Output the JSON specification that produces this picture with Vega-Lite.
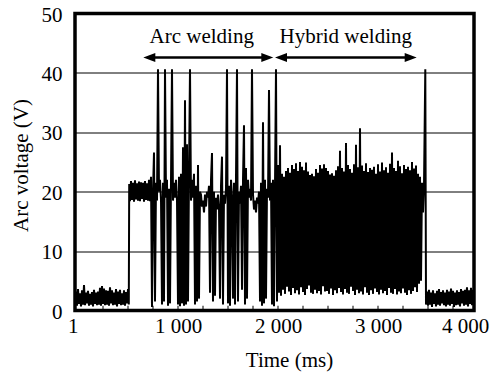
{
  "$schema": "https://vega.github.io/schema/vega-lite/v6.json",
  "width": 399,
  "height": 297,
  "autosize": {"type": "none"},
  "padding": {"left": 75, "top": 13.5, "right": 18, "bottom": 66.5},
  "config": {
    "view": {"stroke": "black", "strokeWidth": 3.5},
    "font": "Liberation Serif",
    "axis": {"labelFont": "Liberation Serif", "titleFont": "Liberation Serif", "labelColor": "black", "titleColor": "black", "labelFontSize": 21, "titleFontSize": 21, "titleFontWeight": "normal", "domain": false, "ticks": false}
  },
  "datasets": {
    "sig": [
      {"t":-30,"v":1.0},{"t":-20,"v":3.2},{"t":-10,"v":0.8},{"t":0,"v":3.6},{"t":10,"v":1.1},{"t":20,"v":2.9},{"t":30,"v":0.7},{"t":40,"v":3.4},{"t":50,"v":1.0},{"t":60,"v":4.3},{"t":70,"v":0.9},{"t":80,"v":3.0},{"t":90,"v":1.2},{"t":100,"v":3.3},{"t":110,"v":0.8},{"t":120,"v":2.8},{"t":130,"v":1.0},{"t":140,"v":3.1},{"t":150,"v":0.7},{"t":160,"v":3.5},{"t":170,"v":1.1},{"t":180,"v":3.0},{"t":190,"v":0.9},{"t":200,"v":3.2},{"t":210,"v":1.0},{"t":220,"v":3.8},{"t":230,"v":0.8},{"t":240,"v":4.1},{"t":250,"v":1.1},{"t":260,"v":3.7},{"t":270,"v":0.9},{"t":280,"v":3.4},{"t":290,"v":1.0},{"t":300,"v":3.3},{"t":310,"v":0.8},{"t":320,"v":3.9},{"t":330,"v":1.2},{"t":340,"v":3.4},{"t":350,"v":0.9},{"t":360,"v":3.0},{"t":370,"v":1.0},{"t":380,"v":3.6},{"t":390,"v":0.7},{"t":400,"v":3.2},{"t":410,"v":1.1},{"t":420,"v":3.5},{"t":430,"v":0.9},{"t":440,"v":2.9},{"t":450,"v":1.0},{"t":460,"v":3.4},{"t":470,"v":0.8},{"t":480,"v":3.1},{"t":490,"v":1.2},{"t":500,"v":3.6},{"t":508,"v":1.0},
      {"t":512,"v":21.3},{"t":520,"v":18.4},{"t":530,"v":21.8},{"t":540,"v":18.6},{"t":550,"v":21.5},{"t":560,"v":18.3},{"t":570,"v":21.9},{"t":580,"v":18.7},{"t":590,"v":21.4},{"t":600,"v":18.5},{"t":610,"v":21.7},{"t":620,"v":18.4},{"t":630,"v":21.6},{"t":640,"v":18.8},{"t":650,"v":21.5},{"t":660,"v":18.3},{"t":670,"v":21.8},{"t":680,"v":18.6},{"t":690,"v":21.4},{"t":700,"v":18.5},{"t":710,"v":22.0},{"t":720,"v":18.4},{"t":730,"v":22.5},
      {"t":740,"v":0.6},{"t":750,"v":20},{"t":760,"v":26.6},{"t":770,"v":1.5},{"t":780,"v":21.5},{"t":790,"v":18.5},{"t":800,"v":40.6},{"t":810,"v":20},{"t":820,"v":22},{"t":830,"v":18.7},{"t":840,"v":1.0},{"t":850,"v":21.5},{"t":860,"v":1.5},{"t":870,"v":40.6},{"t":880,"v":19},{"t":890,"v":22},{"t":900,"v":0.8},{"t":910,"v":20.5},{"t":920,"v":1.2},{"t":930,"v":22},{"t":940,"v":40.6},{"t":950,"v":18.5},{"t":960,"v":21.5},{"t":970,"v":19},{"t":980,"v":22},{"t":990,"v":18.5},{"t":1000,"v":1.0},{"t":1010,"v":22.5},{"t":1020,"v":0.7},{"t":1030,"v":23},{"t":1040,"v":1.2},{"t":1050,"v":27.5},{"t":1060,"v":0.8},{"t":1070,"v":35.4},{"t":1080,"v":1.0},{"t":1090,"v":28},{"t":1100,"v":1.5},{"t":1110,"v":23},{"t":1120,"v":40.6},{"t":1130,"v":18.5},{"t":1140,"v":22},{"t":1150,"v":19},{"t":1160,"v":23},{"t":1170,"v":1.0},{"t":1180,"v":21},{"t":1190,"v":1.5},{"t":1200,"v":24.5},{"t":1210,"v":2.0},{"t":1220,"v":20},{"t":1230,"v":19.5},{"t":1240,"v":17.5},{"t":1250,"v":18.5},{"t":1260,"v":16.5},{"t":1270,"v":19.5},{"t":1280,"v":17.5},{"t":1290,"v":20},{"t":1300,"v":19},{"t":1310,"v":21},{"t":1320,"v":3.0},{"t":1330,"v":22},{"t":1340,"v":26.5},{"t":1350,"v":1.5},{"t":1360,"v":20},{"t":1370,"v":2.5},{"t":1380,"v":19},{"t":1390,"v":17},{"t":1400,"v":19.5},{"t":1410,"v":17.5},{"t":1420,"v":2.0},{"t":1430,"v":21},{"t":1440,"v":25.9},{"t":1450,"v":1.0},{"t":1460,"v":19.5},{"t":1470,"v":18},{"t":1480,"v":20.5},{"t":1490,"v":40.6},{"t":1500,"v":1.2},{"t":1510,"v":21},{"t":1520,"v":0.8},{"t":1530,"v":22},{"t":1540,"v":19},{"t":1550,"v":2.0},{"t":1560,"v":21.5},{"t":1570,"v":1.0},{"t":1580,"v":22.5},{"t":1590,"v":40.6},{"t":1600,"v":1.5},{"t":1610,"v":20},{"t":1620,"v":18},{"t":1630,"v":21},{"t":1640,"v":3.5},{"t":1650,"v":22},{"t":1660,"v":31.2},{"t":1670,"v":1.0},{"t":1680,"v":24},{"t":1690,"v":2.0},{"t":1700,"v":22},{"t":1710,"v":19},{"t":1720,"v":20.5},{"t":1730,"v":18.5},{"t":1740,"v":40.6},{"t":1750,"v":19.5},{"t":1760,"v":17},{"t":1770,"v":18.5},{"t":1780,"v":16.5},{"t":1790,"v":19},{"t":1800,"v":18},{"t":1810,"v":20},{"t":1820,"v":1.5},{"t":1830,"v":21.5},{"t":1840,"v":0.8},{"t":1850,"v":31.7},{"t":1860,"v":1.2},{"t":1870,"v":22},{"t":1880,"v":2.0},{"t":1890,"v":20.5},{"t":1900,"v":19},{"t":1910,"v":37.1},{"t":1920,"v":18.5},{"t":1930,"v":21.5},{"t":1940,"v":1.0},{"t":1950,"v":22},{"t":1960,"v":0.7},{"t":1970,"v":21},{"t":1980,"v":40.6},{"t":1990,"v":1.5},
      {"t":2000,"v":24.5},{"t":2010,"v":3.0},{"t":2020,"v":27.8},{"t":2030,"v":2.5},{"t":2040,"v":23.0},{"t":2050,"v":3.5},{"t":2060,"v":22.5},{"t":2070,"v":2.8},{"t":2080,"v":23.5},{"t":2090,"v":4.0},{"t":2100,"v":24.0},{"t":2110,"v":3.2},{"t":2120,"v":23.2},{"t":2130,"v":2.6},{"t":2140,"v":24.5},{"t":2150,"v":3.8},{"t":2160,"v":23.8},{"t":2170,"v":2.9},{"t":2180,"v":24.8},{"t":2190,"v":3.4},{"t":2200,"v":23.5},{"t":2210,"v":2.7},{"t":2220,"v":25.0},{"t":2230,"v":3.9},{"t":2240,"v":24.2},{"t":2250,"v":3.1},{"t":2260,"v":23.6},{"t":2270,"v":2.6},{"t":2280,"v":24.9},{"t":2290,"v":3.6},{"t":2300,"v":23.4},{"t":2310,"v":4.2},{"t":2320,"v":22.8},{"t":2330,"v":3.0},{"t":2340,"v":23.0},{"t":2350,"v":2.8},{"t":2360,"v":22.6},{"t":2370,"v":3.5},{"t":2380,"v":23.8},{"t":2390,"v":2.9},{"t":2400,"v":23.2},{"t":2410,"v":3.3},{"t":2420,"v":24.5},{"t":2430,"v":2.7},{"t":2440,"v":23.9},{"t":2450,"v":4.1},{"t":2460,"v":24.6},{"t":2470,"v":3.2},{"t":2480,"v":24.0},{"t":2490,"v":3.3},{"t":2500,"v":23.5},{"t":2510,"v":2.8},{"t":2520,"v":22.9},{"t":2530,"v":3.7},{"t":2540,"v":23.1},{"t":2550,"v":2.6},{"t":2560,"v":22.7},{"t":2570,"v":3.4},{"t":2580,"v":23.6},{"t":2590,"v":2.9},{"t":2600,"v":24.3},{"t":2610,"v":3.8},{"t":2620,"v":26.9},{"t":2630,"v":3.1},{"t":2640,"v":24.0},{"t":2650,"v":2.7},{"t":2660,"v":23.4},{"t":2670,"v":3.6},{"t":2680,"v":28.2},{"t":2690,"v":3.0},{"t":2700,"v":24.5},{"t":2710,"v":2.8},{"t":2720,"v":23.8},{"t":2730,"v":4.0},{"t":2740,"v":23.2},{"t":2750,"v":3.3},{"t":2760,"v":24.6},{"t":2770,"v":2.6},{"t":2780,"v":27.9},{"t":2790,"v":3.5},{"t":2800,"v":24.1},{"t":2810,"v":2.9},{"t":2820,"v":30.7},{"t":2830,"v":3.2},{"t":2840,"v":24.4},{"t":2850,"v":2.7},{"t":2860,"v":23.5},{"t":2870,"v":3.9},{"t":2880,"v":24.8},{"t":2890,"v":3.0},{"t":2900,"v":23.3},{"t":2910,"v":2.6},{"t":2920,"v":24.0},{"t":2930,"v":3.4},{"t":2940,"v":23.7},{"t":2950,"v":2.8},{"t":2960,"v":24.2},{"t":2970,"v":3.7},{"t":2980,"v":23.0},{"t":2990,"v":3.1},{"t":3000,"v":24.6},{"t":3010,"v":2.7},{"t":3020,"v":23.4},{"t":3030,"v":3.5},{"t":3040,"v":24.9},{"t":3050,"v":2.9},{"t":3060,"v":23.6},{"t":3070,"v":3.3},{"t":3080,"v":24.1},{"t":3090,"v":2.6},{"t":3100,"v":23.2},{"t":3110,"v":3.8},{"t":3120,"v":24.7},{"t":3130,"v":3.0},{"t":3140,"v":26.6},{"t":3150,"v":2.8},{"t":3160,"v":24.0},{"t":3170,"v":3.6},{"t":3180,"v":23.5},{"t":3190,"v":2.7},{"t":3200,"v":25.2},{"t":3210,"v":3.2},{"t":3220,"v":24.3},{"t":3230,"v":2.9},{"t":3240,"v":23.1},{"t":3250,"v":3.7},{"t":3260,"v":24.5},{"t":3270,"v":3.0},{"t":3280,"v":23.8},{"t":3290,"v":2.6},{"t":3300,"v":24.2},{"t":3310,"v":3.4},{"t":3320,"v":23.6},{"t":3330,"v":2.8},{"t":3340,"v":25.0},{"t":3350,"v":3.3},{"t":3360,"v":23.9},{"t":3370,"v":3.9},{"t":3380,"v":24.4},{"t":3390,"v":3.1},{"t":3400,"v":23.0},{"t":3410,"v":4.5},{"t":3420,"v":22.5},{"t":3430,"v":5.0},{"t":3440,"v":21.5},{"t":3450,"v":16.5},{"t":3460,"v":21.0},{"t":3473,"v":40.6},{"t":3480,"v":1.0},
      {"t":3490,"v":3.2},{"t":3500,"v":0.8},{"t":3510,"v":3.5},{"t":3520,"v":1.0},{"t":3530,"v":3.0},{"t":3540,"v":0.6},{"t":3550,"v":3.4},{"t":3560,"v":1.1},{"t":3570,"v":2.9},{"t":3580,"v":0.7},{"t":3590,"v":3.3},{"t":3600,"v":1.0},{"t":3610,"v":3.6},{"t":3620,"v":0.8},{"t":3630,"v":3.1},{"t":3640,"v":1.2},{"t":3650,"v":3.4},{"t":3660,"v":0.9},{"t":3670,"v":3.0},{"t":3680,"v":0.7},{"t":3690,"v":3.5},{"t":3700,"v":1.0},{"t":3710,"v":3.2},{"t":3720,"v":0.8},{"t":3730,"v":3.7},{"t":3740,"v":1.1},{"t":3750,"v":3.3},{"t":3760,"v":0.6},{"t":3770,"v":3.0},{"t":3780,"v":0.9},{"t":3790,"v":3.4},{"t":3800,"v":1.0},{"t":3810,"v":3.1},{"t":3820,"v":0.7},{"t":3830,"v":3.6},{"t":3840,"v":1.2},{"t":3850,"v":3.3},{"t":3860,"v":0.8},{"t":3870,"v":3.5},{"t":3880,"v":1.0},{"t":3890,"v":3.9},{"t":3900,"v":0.7},{"t":3910,"v":3.4},{"t":3920,"v":1.1},{"t":3930,"v":3.8},{"t":3940,"v":0.9},{"t":3950,"v":3.5},{"t":3960,"v":1.0}
    ],
    "ticks": [
      {"t":250},{"t":500},{"t":750},{"t":1000},{"t":1250},{"t":1500},{"t":1750},{"t":2000},{"t":2250},{"t":2500},{"t":2750},{"t":3000},{"t":3250},{"t":3500},{"t":3750}
    ],
    "arrows": [
      {"a":700,"b":1900,"v":42.6},{"a":2020,"b":3340,"v":42.6}
    ],
    "headsL": [{"t":713,"v":42.6},{"t":2030,"v":42.6}],
    "headsR": [{"t":1893,"v":42.6},{"t":3327,"v":42.6}],
    "labels": [{"t":1237,"v":45.0,"label":"Arc welding"},{"t":2678,"v":45.0,"label":"Hybrid welding"}]
  },
  "layer": [
    {
      "data": {"name": "ticks"},
      "mark": {"type": "rule", "color": "black", "strokeWidth": 1},
      "encoding": {
        "x": {"field": "t", "type": "quantitative", "scale": {"domain": [-30, 3960], "nice": false, "zero": false},
          "axis": {"title": "Time (ms)", "values": [0, 1000, 2000, 3000, 3870], "labelExpr": "datum.value < 500 ? '1' : datum.value > 3500 ? '4 000' : datum.value == 1000 ? '1 000' : datum.value == 2000 ? '2 000' : '3 000'", "labelAlign": {"condition": {"test": "datum.value < 500", "value": "right"}, "value": "center"}, "labelPadding": 5, "grid": false, "labelBound": false, "labelFlush": false, "labelOverlap": false, "titleX": 214, "titleY": 56, "titleBaseline": "alphabetic", "titleAlign": "center", "titleAnchor": null}},
        "y": {"datum": 0, "type": "quantitative", "scale": {"domain": [0, 50], "nice": false},
          "axis": {"title": "Arc voltage (V)", "values": [0, 10, 20, 30, 40, 50], "grid": true, "gridColor": "black", "gridWidth": 1, "gridOpacity": 1, "labelPadding": 13, "labelOffset": 1.5, "titleX": -48, "titleY": 151.5, "titleBaseline": "alphabetic", "titleAlign": "center", "titleAngle": -90, "titleAnchor": null}},
        "y2": {"datum": 0.8}
      }
    },
    {
      "data": {"name": "sig"},
      "mark": {"type": "line", "color": "black", "strokeWidth": 2, "strokeJoin": "miter", "strokeMiterLimit": 3},
      "encoding": {
        "x": {"field": "t", "type": "quantitative"},
        "y": {"field": "v", "type": "quantitative"}
      }
    },
    {
      "data": {"name": "arrows"},
      "mark": {"type": "rule", "color": "black", "strokeWidth": 2.5},
      "encoding": {
        "x": {"field": "a", "type": "quantitative"},
        "x2": {"field": "b"},
        "y": {"field": "v", "type": "quantitative"}
      }
    },
    {
      "data": {"name": "headsL"},
      "mark": {"type": "point", "shape": "M-1,0L1,-0.75L1,0.75Z", "size": 144, "filled": true, "color": "black", "opacity": 1},
      "encoding": {
        "x": {"field": "t", "type": "quantitative"},
        "y": {"field": "v", "type": "quantitative"}
      }
    },
    {
      "data": {"name": "headsR"},
      "mark": {"type": "point", "shape": "M1,0L-1,-0.75L-1,0.75Z", "size": 144, "filled": true, "color": "black", "opacity": 1},
      "encoding": {
        "x": {"field": "t", "type": "quantitative"},
        "y": {"field": "v", "type": "quantitative"}
      }
    },
    {
      "data": {"name": "labels"},
      "mark": {"type": "text", "font": "Liberation Serif", "fontSize": 21, "color": "black", "align": "center", "baseline": "alphabetic"},
      "encoding": {
        "x": {"field": "t", "type": "quantitative"},
        "y": {"field": "v", "type": "quantitative"},
        "text": {"field": "label"}
      }
    }
  ]
}
